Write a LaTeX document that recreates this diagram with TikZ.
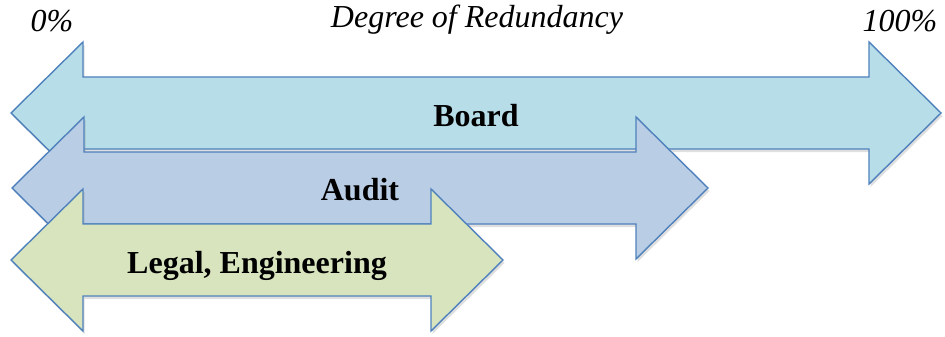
\documentclass[tikz,border=0pt]{standalone}
\usepackage{fontspec}
\setmainfont{Liberation Serif}
\usetikzlibrary{shadows}
\definecolor{edgeblue}{HTML}{4F81BD}
\definecolor{boardfill}{HTML}{B7DDE8}
\definecolor{auditfill}{HTML}{B9CDE5}
\definecolor{legalfill}{HTML}{D7E4BD}
\tikzset{
	band/.style={draw=edgeblue,line width=1.4pt,line join=miter,
		drop shadow={opacity=0.25,shadow xshift=1.5pt,shadow yshift=-3pt}},
	bandlabel/.style={anchor=base,font=\fontsize{32}{38}\selectfont\bfseries},
	scalelabel/.style={anchor=base,font=\fontsize{32}{38}\selectfont\itshape}
}
% double headed band: left tip x, right tip x, centre y, fill
\newcommand\dblband[4]{%
	\filldraw [band,fill=#4] (#1,#3) -- ({#1+\hl},{#3-\hw}) -- ({#1+\hl},{#3-\sw})
		-- ({#2-\hl},{#3-\sw}) -- ({#2-\hl},{#3-\hw}) -- (#2,#3)
		-- ({#2-\hl},{#3+\hw}) -- ({#2-\hl},{#3+\sw}) -- ({#1+\hl},{#3+\sw})
		-- ({#1+\hl},{#3+\hw}) -- cycle;}
\begin{document}
\begin{tikzpicture}[x=1pt,y=-1pt]
		\useasboundingbox (0,0) rectangle (945,337);
		\def\hl{72}	% head length
		\def\hw{71}	% half width of head
		\def\sw{36}	% half width of shaft
		% scale
			\node [scalelabel] (low) at (52,32) {0\%};
			\node [scalelabel] (title) at (477,28) {Degree of Redundancy};
			\node [scalelabel] (high) at (900,32) {100\%};
		% bands
			\dblband{11}{941}{113}{boardfill}
			\node [bandlabel] (board) at (476,126) {Board};
			\dblband{12}{708}{188}{auditfill}
			\node [bandlabel] (audit) at (360,200) {Audit};
			\dblband{11}{503}{260}{legalfill}
			\node [bandlabel] (legal) at (257,273) {Legal, Engineering};
	\end{tikzpicture}
\end{document}
